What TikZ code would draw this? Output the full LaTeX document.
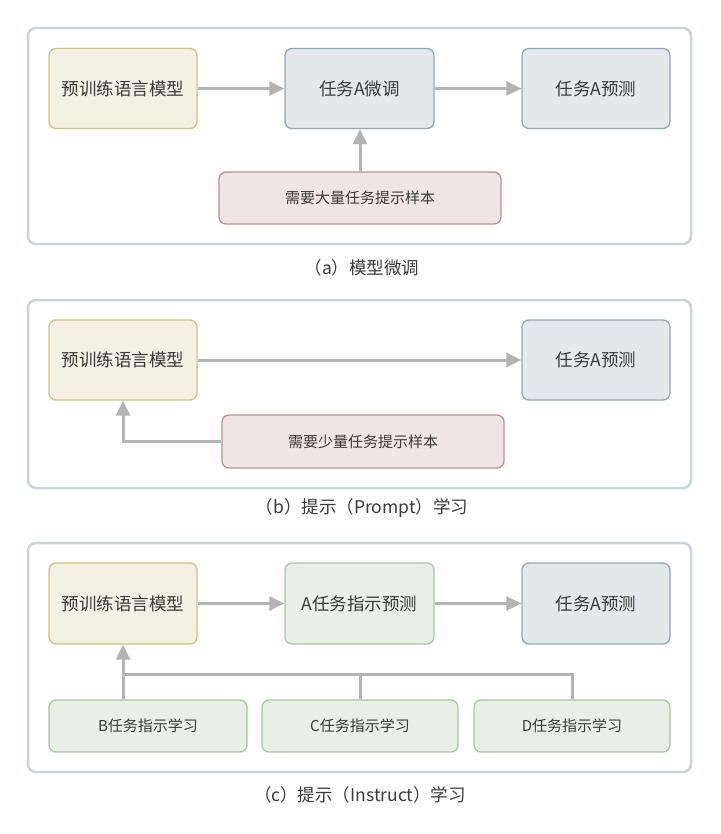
\documentclass[tikz,border=0pt]{standalone}
\usepackage{fontspec}
\setmainfont{Noto Sans CJK SC}
\usetikzlibrary{arrows.meta}
\definecolor{txt}{HTML}{3A3A3A}
\definecolor{outerc}{HTML}{C9D4DB}
\definecolor{yfill}{HTML}{F2F1E4}\definecolor{ydraw}{HTML}{CFC47E}
\definecolor{bfill}{HTML}{E3E9EB}\definecolor{bdraw}{HTML}{8FAAB4}
\definecolor{pfill}{HTML}{F0E5E5}\definecolor{pdraw}{HTML}{BD9090}
\definecolor{gfill}{HTML}{E8EFE6}\definecolor{gdraw}{HTML}{A5C7A2}
\definecolor{arrc}{HTML}{B3B3B3}
\tikzset{
  panel/.style={draw=outerc, line width=2.5pt, rounded corners=8pt, fill=white, inner sep=0pt, minimum width=663pt},
  box/.style={rounded corners=7pt, line width=1.3pt, inner sep=0pt, text=txt, font=\fontsize{17.5}{20}\selectfont, minimum width=148pt, minimum height=80pt},
  ybox/.style={box, fill=yfill, draw=ydraw},
  bbox/.style={box, fill=bfill, draw=bdraw},
  pbox/.style={box, fill=pfill, draw=pdraw, font=\fontsize{15}{17}\selectfont, minimum width=282pt, minimum height=52pt},
  gbox/.style={box, fill=gfill, draw=gdraw},
  gsbox/.style={box, fill=gfill, draw=gdraw, font=\fontsize{15}{17}\selectfont, minimum width=196pt, minimum height=52pt},
  captext/.style={text=txt, font=\fontsize{17.5}{20}\selectfont, inner sep=0pt},
  arr/.style={draw=arrc, line width=3pt, -{Triangle[length=15pt,width=14pt]}},
  ln/.style={draw=arrc, line width=3pt}
}
\begin{document}
\begin{tikzpicture}[x=1pt,y=-1pt]
\useasboundingbox (0,0) rectangle (720,834);
% panel a
\node[panel, minimum height=216pt] (pa) at (359.5,136) {};
\node[ybox] (a1) at (123,88.5) {预训练语言模型};
\node[bbox, minimum width=149pt] (a2) at (359.5,88.5) {任务A微调};
\node[bbox] (a3) at (596,88.5) {任务A预测};
\node[pbox] (a4) at (360,198) {需要大量任务提示样本};
\draw[arr] (a1) -- (a2);
\draw[arr] (a2) -- (a3);
\draw[arr] (a4.north) -- (a4.north |- a2.south);
\node[captext] (capa) at (362,268) {（a）模型微调};
% panel b
\node[panel, minimum height=188pt] (pb) at (359.5,394) {};
\node[ybox] (b1) at (123,360) {预训练语言模型};
\node[bbox] (b3) at (596,360) {任务A预测};
\node[pbox, minimum height=53pt] (b4) at (363,441.5) {需要少量任务提示样本};
\draw[arr] (b1) -- (b3);
\draw[arr] (b4.west) -| (b1.south);
\node[captext] (capb) at (362,508) {（b）提示（Prompt）学习};
% panel c
\node[panel, minimum height=229pt] (pc) at (359.5,657.5) {};
\node[ybox, minimum height=81pt] (c1) at (123,603.5) {预训练语言模型};
\node[gbox, minimum width=149pt, minimum height=81pt] (c2) at (359.5,603.5) {A任务指示预测};
\node[bbox, minimum height=81pt] (c3) at (596,603.5) {任务A预测};
\node[gsbox, minimum width=198pt] (cb) at (148,726) {B任务指示学习};
\node[gsbox] (cc) at (360,726) {C任务指示学习};
\node[gsbox] (cd) at (572,726) {D任务指示学习};
\coordinate (hy) at (0,674);
\draw[arr] (c1) -- (c2);
\draw[arr] (c2) -- (c3);
\draw[arr] (c1.south |- cb.north) -- (c1.south);
\draw[ln] (c1.south |- hy) -| (cc.north);
\draw[ln] (cc.north |- hy) -| (cd.north);
\node[captext] (capc) at (360,795) {（c）提示（Instruct）学习};
\end{tikzpicture}
\end{document}
